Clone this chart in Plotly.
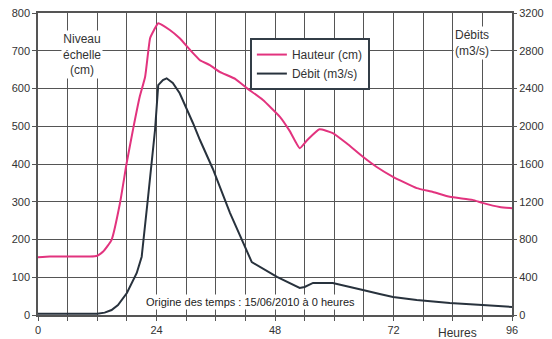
import plotly.graph_objects as go

hauteur_h = [0, 2.4, 6, 10.5, 12, 13.2, 14.9, 16.6, 17.95, 19.3, 20.6, 21.7, 22.7, 23.5, 24.35, 26.7, 28.7, 30.8,
             32.8, 34.8, 36.8, 40, 42.3, 45.5, 49, 51, 53, 54.5, 57, 59.7, 62.5, 65.8, 68.6, 71.9, 76.7, 80, 83.4,
             88, 90, 93.5, 96]
hauteur_cm = [153, 155, 155, 155, 157, 168, 199, 296, 402, 495, 578, 631, 733, 755, 773, 755, 733, 702,
              675, 662, 644, 625, 601, 570, 525, 487, 442, 463, 492, 482, 455, 419, 392, 366, 336, 326, 313,
              305, 297, 286, 283]

debit_h = [0, 6, 10.5, 12, 13.5, 14.9, 16.2, 18, 20, 21, 22.3, 23.3, 23.7, 24.35, 25.3, 26.05, 27.3, 28.7, 30.1,
           31.4, 32.8, 35.4, 38.9, 43.3, 48.4, 53, 54, 55.7, 59.7, 61.7, 65.8, 69.2, 71.9, 76.7, 83.4, 90, 96]
debit_m3s = [12, 12, 12, 14, 25, 53, 106, 233, 445, 618, 1253, 1783, 1960, 2436, 2490, 2508, 2458, 2350, 2190,
             2032, 1854, 1550, 1080, 560, 403, 286, 297, 340, 340, 318, 265, 222, 191, 159, 127, 106, 85]

x_ticks = list(range(0, 97, 6))
x_labels = [str(v) if v % 24 == 0 else "" for v in x_ticks]
left_ticks = list(range(0, 801, 100))
right_ticks = list(range(0, 3201, 400))

PINK = "#e2337e"
DARK = "#28323d"
GRID = "#555555"
FONT = "Liberation Sans"

fig = go.Figure()
fig.add_trace(go.Scatter(x=hauteur_h, y=hauteur_cm, mode="lines", name="Hauteur (cm)",
                         line=dict(color=PINK, width=2, shape="spline", smoothing=0.4)))
fig.add_trace(go.Scatter(x=debit_h, y=debit_m3s, mode="lines", name="Débit (m3/s)", yaxis="y2",
                         line=dict(color=DARK, width=2)))

# page body has an 8px margin, so the figure is 8px smaller than the window
fig.update_layout(
    width=544, height=331,
    margin=dict(l=30, r=40, t=5, b=24, autoexpand=False),
    paper_bgcolor="white", plot_bgcolor="white",
    font=dict(family=FONT, size=11, color="#333333"),
    xaxis=dict(range=[0, 96], tickvals=x_ticks, ticktext=x_labels, showgrid=True, automargin=False,
               gridcolor=GRID, gridwidth=1.2, zeroline=False, showline=True, linecolor=GRID,
               linewidth=1.5, mirror=True, ticks="outside", ticklen=4, tickcolor=GRID,
               ticklabeloverflow="allow"),
    yaxis=dict(range=[0, 800], tickvals=left_ticks, showgrid=True, gridcolor=GRID, gridwidth=1.2,
               automargin=False, zeroline=False, showline=True, linecolor=GRID, linewidth=1.5, mirror=True,
               ticks="outside", ticklen=4, tickcolor=GRID, ticklabeloverflow="allow"),
    yaxis2=dict(range=[0, 3200], tickvals=right_ticks, overlaying="y", side="right", showgrid=False,
                automargin=False, zeroline=False, showline=False, ticks="outside", ticklen=4, tickcolor=GRID,
                ticklabeloverflow="allow"),
    legend=dict(x=0.447, y=0.917, xanchor="left", yanchor="top", bgcolor="white",
                bordercolor="#333d47", borderwidth=2, font=dict(size=12, color="#333333"),
                tracegroupgap=0),
    showlegend=True,
)

fig.add_annotation(xref="paper", yref="paper", x=0.093, y=0.944, text="Niveau<br>échelle<br>(cm)",
                   showarrow=False, font=dict(size=12, color="#333333"), bgcolor="white",
                   xanchor="center", yanchor="top", align="center")
fig.add_annotation(xref="paper", yref="paper", x=0.916, y=0.957, text="Débits<br>(m3/s)",
                   showarrow=False, font=dict(size=12, color="#333333"), bgcolor="white",
                   xanchor="center", yanchor="top", align="center")
fig.add_annotation(xref="x", yref="y", x=43, y=34, text="Origine des temps : 15/06/2010 à 0 heures",
                   showarrow=False, font=dict(size=11, color="#222222"), bgcolor="white",
                   xanchor="center", yanchor="middle")
fig.add_annotation(xref="x", yref="paper", x=85, y=0, yshift=-18, text="Heures",
                   showarrow=False, font=dict(size=12, color="#333333"),
                   xanchor="center", yanchor="middle")

fig.write_html("out.html")
